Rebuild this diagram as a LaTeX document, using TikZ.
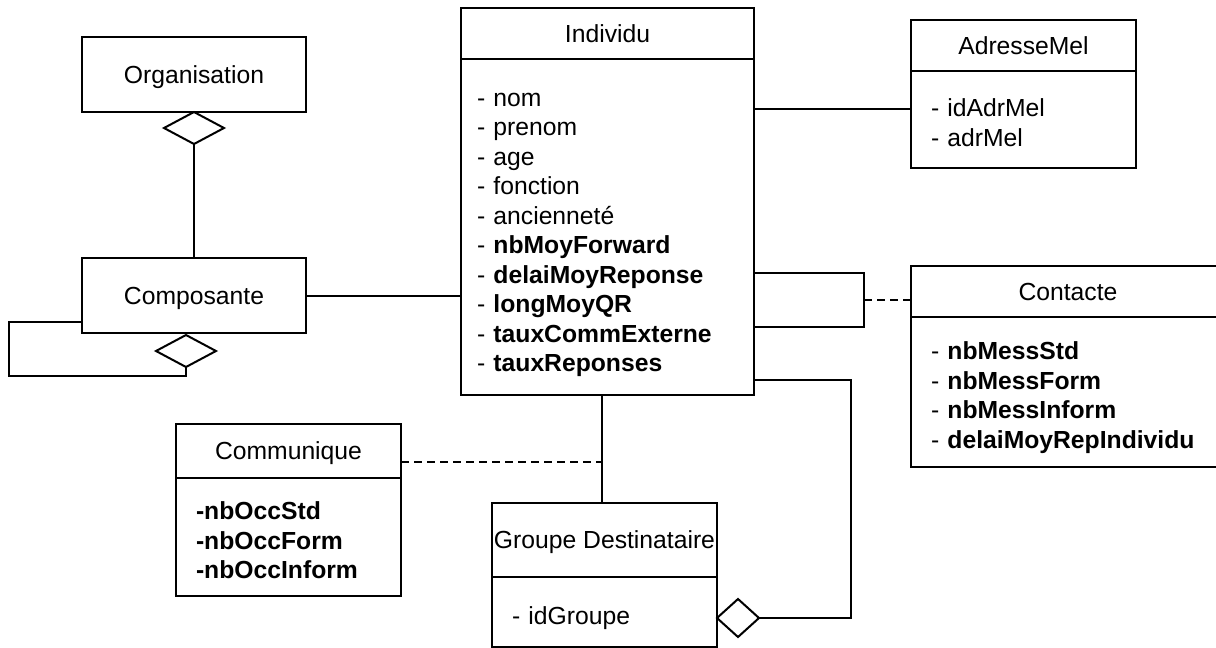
\documentclass[tikz,border=0pt]{standalone}
\usepackage{fontspec}
\setmainfont{Liberation Sans}
\usetikzlibrary{positioning}
\usetikzlibrary{shapes.geometric}
\tikzset{every node/.style={font=\fontsize{12.35}{14.75}\selectfont, outer sep=0pt},
  cls/.style={draw, inner sep=0pt, text depth=0pt},
  attrs/.style={draw, align=left, inner xsep=10pt, inner ysep=0pt,
    execute at begin node={\rule{0pt}{15pt}},
    execute at end node={\rule[-3pt]{0pt}{3pt}}},
  aggr/.style={draw, shape=diamond, fill=white, inner sep=0pt, minimum width=30pt, minimum height=16pt},
  assoc/.style={dash pattern=on 4pt off 2.5pt}}

\begin{document}
\begin{tikzpicture}[x=0.5pt, y=-0.5pt, line width=1pt]
        \useasboundingbox (0,0) rectangle (1216,648);
        \node[cls, minimum width=112pt, minimum height=37.5pt] (org) at (194,74.5) {Organisation};
        \node[aggr, below=0pt of org] (orgdia) {};
        \node[cls, minimum width=112pt, minimum height=37.5pt] (comp) at (194,295.5) {Composante};
        \node[aggr, below=1pt of comp, xshift=-4pt] (compdia) {};
        \node[cls, minimum width=146.5pt, minimum height=25.5pt] (indiv) at (607.5,33.5) {Individu};
        \node[attrs, inner xsep=8pt, text width=130.5pt, minimum height=168pt, below=0pt of indiv] (indivattr)
        {- nom\\ - prenom\\ - age\\ - fonction\\ - ancienneté\\ - \textbf{nbMoyForward}\\ - \textbf{delaiMoyReponse}\\
        - \textbf{longMoyQR}\\ - \textbf{tauxCommExterne}\\ - \textbf{tauxReponses}};
        \node[cls, minimum width=112.5pt, minimum height=25.5pt] (adr) at (1023.5,45.5) {AdresseMel};
        \node[attrs, text width=92.5pt, minimum height=48.5pt, below=0pt of adr] (adrattr) {- idAdrMel\\ - adrMel};
        \node[cls, minimum width=157pt, minimum height=25.5pt] (cont) at (1068,291.5) {Contacte};
        \node[attrs, text width=137pt, minimum height=75pt, below=0pt of cont] (contattr)
        {- \textbf{nbMessStd}\\ - \textbf{nbMessForm}\\ - \textbf{nbMessInform}\\ - \textbf{delaiMoyRepIndividu}};
        \node[cls, minimum width=112.5pt, minimum height=27pt] (comm) at (288.5,451) {Communique};
        \node[attrs, text width=92.5pt, minimum height=59pt, below=0pt of comm] (commattr)
        {\textbf{-nbOccStd}\\ \textbf{-nbOccForm}\\ \textbf{-nbOccInform}};
        \node[cls, minimum width=112.5pt, minimum height=37pt] (grp) at (604.5,540) {Groupe Destinataire};
        \node[attrs, text width=92.5pt, minimum height=35pt, below=0pt of grp] (grpattr) {- idGroupe};
        \node[aggr, minimum width=21pt, minimum height=19pt, right=0pt of grpattr, yshift=-3pt] (grpdia) {};
        \coordinate (adrlink) at ([yshift=5.25pt]adrattr.west);
        \coordinate (cloop) at (864,300);
        \coordinate (glink) at ([xshift=-1.25pt]grp.north);
        \coordinate (cdash) at ([yshift=-5.5pt]comm.east);
        \draw (orgdia) -- (comp)
        (compdia.south) |- (9,376) |- ([yshift=-13.25pt]comp.west)
        (comp.east) -- (comp.east -| indivattr.west)
        (adrlink) -- (adrlink -| indivattr.east)
        (indivattr.east |- 0,273) -| (cloop) |- (indivattr.east |- 0,327)
        (grpdia.east) -| (851,380) -- (indivattr.east |- 0,380)
        (glink) -- (glink |- indivattr.south);
        \draw[assoc] (cloop) -- (cloop -| contattr.west)
        (cdash) -- (cdash -| glink);
    \end{tikzpicture}
\end{document}
